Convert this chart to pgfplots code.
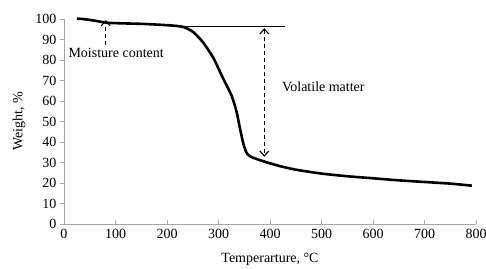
\documentclass[border=0pt]{standalone}
\usepackage{fontspec}
\setmainfont{Liberation Serif}
\usepackage{pgfplots}
\pgfplotsset{compat=1.18}
\usetikzlibrary{arrows.meta}
\begin{document}
\begin{tikzpicture}[font=\fontsize{14}{16}\selectfont]
\useasboundingbox (-64pt,-44pt) rectangle (422pt,224pt);
\begin{axis}[
  scale only axis, width=412pt, height=205pt,
  xmin=0, xmax=800, ymin=0, ymax=100,
  axis x line*=bottom, axis y line*=left,
  axis line style={gray!70, line width=0.8pt},
  xtick={0,100,...,800}, ytick={0,10,...,100},
  xtick align=inside, ytick align=outside,
  major tick length=4pt,
  tick style={gray!70, line width=0.8pt},
  /pgf/number format/assume math mode=true,
  /pgf/number format/1000 sep={},
  xticklabel style={yshift=-2pt},
  xlabel={Temperarture, °C},
  ylabel={Weight, \%},
  every axis x label/.style={at={(axis description cs:0.5,0)}, anchor=center, yshift=-35.5pt},
  every axis y label/.style={at={([xshift=-45pt]axis description cs:0,0.5)}, anchor=center, rotate=90},
  clip=false,
]
\addplot[black, line width=2.6pt, smooth, tension=0.4] coordinates {
(25,100.2) (40,99.9) (57,99.3) (83,98.2) (110,97.9) (154,97.6) (205,96.9) (232,96.1) (251,93.6)
(270,88.6) (290,81) (309,71) (325.6,62.5) (335,54.8) (341.7,46.7) (348,39.4) (354,35)
(360,33.2) (374,31.7) (400,29.6) (420,28.2) (450,26.5) (500,24.6) (550,23.3) (600,22.3)
(650,21.3) (700,20.5) (750,19.7) (792,18.7)
};
\addplot[black, line width=0.8pt] coordinates {(225,96.3) (430,96.3)};
\addplot[black, line width=1.1pt, dash pattern=on 4pt off 3pt,
  {Straight Barb[length=5pt,width=9pt,line width=1.1pt]}-{Straight Barb[length=5pt,width=9pt,line width=1.1pt]}]
  coordinates {(389,95.5) (389,32.8)};
\addplot[black, line width=1.1pt, dash pattern=on 4pt off 3pt,
  -{Straight Barb[length=5pt,width=9pt,line width=1.1pt]}]
  coordinates {(81,87.3) (81,99.5)};
\node[anchor=west, inner sep=0pt] at (axis cs:8.4,83.4) {Moisture content};
\node[anchor=west, inner sep=0pt] at (axis cs:423,66.8) {Volatile matter};
\end{axis}
\end{tikzpicture}
\end{document}
